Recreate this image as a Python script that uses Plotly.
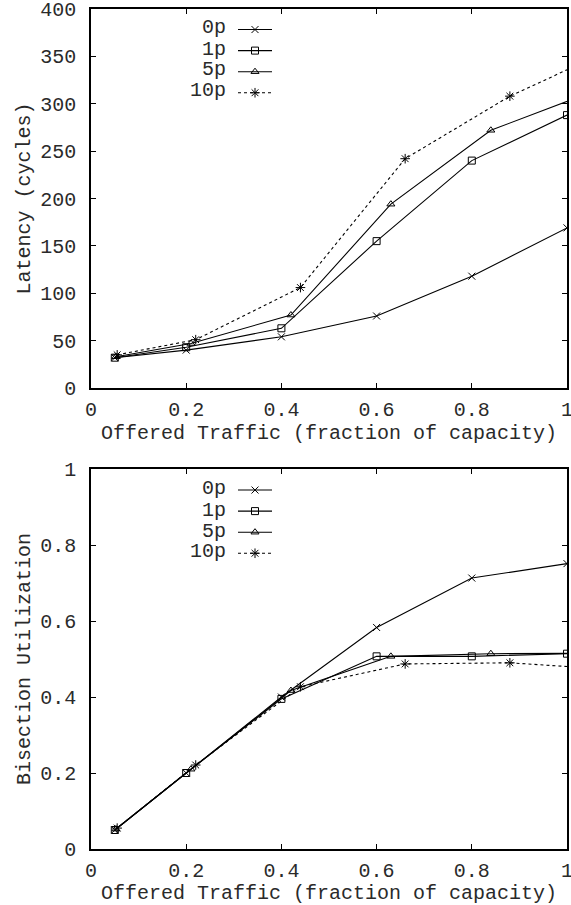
import plotly.graph_objects as go

# ---------------- data ----------------
series_names = ["0p", "1p", "5p", "10p"]

x_0p = [0.05, 0.2, 0.4, 0.6, 0.8, 1.0]
x_1p = [0.05, 0.2, 0.4, 0.6, 0.8, 1.0]
x_5p = [0.0525, 0.21, 0.42, 0.63, 0.84, 1.05]
x_10p = [0.055, 0.22, 0.44, 0.66, 0.88, 1.1]

latency_0p = [32, 40, 54, 76, 118, 169]
latency_1p = [32, 43, 63, 155, 240, 288]
latency_5p = [33, 47, 77, 194, 272, 312]
latency_10p = [35, 51, 106, 242, 308, 359]

util_0p = [0.05, 0.20, 0.40, 0.583, 0.713, 0.751]
util_1p = [0.05, 0.20, 0.395, 0.507, 0.507, 0.514]
util_5p = [0.0525, 0.21, 0.417, 0.507, 0.514, 0.515]
util_10p = [0.055, 0.221, 0.427, 0.487, 0.490, 0.472]

x_ticks = [0, 0.2, 0.4, 0.6, 0.8, 1]
x_ticktext = ["0", "0.2", "0.4", "0.6", "0.8", "1"]
lat_ticks = [0, 50, 100, 150, 200, 250, 300, 350, 400]
util_ticks = [0, 0.2, 0.4, 0.6, 0.8, 1]
util_ticktext = ["0", "0.2", "0.4", "0.6", "0.8", "1"]

x_title = "Offered Traffic (fraction of capacity)"
lat_title = "Latency (cycles)"
util_title = "Bisection Utilization"

# ---------------- style ----------------
FONT = "Liberation Mono"
TXT = "#2a2a2a"
W, H = 571, 905
ML, MR, MT, MB = 91, 4, 9, 56
PLOT_H = H - MT - MB

def py(p):
    """pixel y -> paper y"""
    return (H - MB - p) / PLOT_H

def px(p):
    return (p - ML) / (W - ML - MR)

styles = [
    dict(symbol="x-thin-open", size=7, dash="solid"),
    dict(symbol="square-open", size=7, dash="solid"),
    dict(symbol="triangle-up-open", size=7, dash="solid"),
    dict(symbol="asterisk-open", size=8, dash="dot"),
]

xs = [x_0p, x_1p, x_5p, x_10p]
lat = [latency_0p, latency_1p, latency_5p, latency_10p]
util = [util_0p, util_1p, util_5p, util_10p]

fig = go.Figure()
for i, name in enumerate(series_names):
    st = styles[i]
    fig.add_trace(go.Scatter(
        x=xs[i], y=lat[i], name=name, mode="lines+markers",
        line=dict(color="black", width=1.1, dash=st["dash"]),
        marker=dict(symbol=st["symbol"], size=st["size"], color="black",
                    line=dict(color="black", width=1)),
        xaxis="x", yaxis="y", legend="legend", cliponaxis=True,
    ))
for i, name in enumerate(series_names):
    st = styles[i]
    fig.add_trace(go.Scatter(
        x=xs[i], y=util[i], name=name, mode="lines+markers",
        line=dict(color="black", width=1.1, dash=st["dash"]),
        marker=dict(symbol=st["symbol"], size=st["size"], color="black",
                    line=dict(color="black", width=1)),
        xaxis="x2", yaxis="y2", legend="legend2", cliponaxis=True,
    ))

axis_common = dict(
    showline=True, linecolor="black", linewidth=1.5, mirror="allticks",
    ticks="inside", ticklen=5, tickwidth=1, tickcolor="black",
    showgrid=False, zeroline=False, automargin=False,
    ticklabeloverflow="allow",
    tickfont=dict(family=FONT, size=20, color=TXT),
)

top_dom = [py(388), 1.0]
bot_dom = [0.0, py(469)]

fig.update_layout(
    width=W, height=H,
    margin=dict(l=ML, r=MR, t=MT, b=MB, autoexpand=False),
    paper_bgcolor="white", plot_bgcolor="white",
    font=dict(family=FONT, size=20, color=TXT),
    xaxis=dict(axis_common, range=[0, 1], tickvals=x_ticks, ticktext=x_ticktext,
               anchor="y", ticklabelstandoff=2,
               title=dict(text=x_title, standoff=4, font=dict(family=FONT, size=20))),
    yaxis=dict(axis_common, range=[0, 400], tickvals=lat_ticks, domain=top_dom,
               anchor="x", ticklabelstandoff=9,
               title=dict(text=lat_title, standoff=4, font=dict(family=FONT, size=20))),
    xaxis2=dict(axis_common, range=[0, 1], tickvals=x_ticks, ticktext=x_ticktext,
                anchor="y2", ticklabelstandoff=2,
                title=dict(text=x_title, standoff=4, font=dict(family=FONT, size=20))),
    yaxis2=dict(axis_common, range=[0, 1], tickvals=util_ticks, ticktext=util_ticktext,
                domain=bot_dom, anchor="x2", ticklabelstandoff=9,
                title=dict(text=util_title, standoff=4, font=dict(family=FONT, size=20))),
    legend=dict(x=px(233), y=py(14), xanchor="left", yanchor="top",
                bgcolor="rgba(0,0,0,0)", itemwidth=34,
                font=dict(family=FONT, size=13.9, color="rgba(0,0,0,0)")),
    legend2=dict(x=px(233), y=py(474.5), xanchor="left", yanchor="top",
                 bgcolor="rgba(0,0,0,0)", itemwidth=34,
                 font=dict(family=FONT, size=13.9, color="rgba(0,0,0,0)")),
    showlegend=True,
)

# legend labels (right-aligned, left of the samples, gnuplot style)
row_top = [27.7, 49, 70, 90.7]
row_bot = [488, 510, 531, 552]
for i, name in enumerate(series_names):
    for rows in (row_top, row_bot):
        fig.add_annotation(
            x=px(227), y=py(rows[i]), xref="paper", yref="paper",
            text=name, showarrow=False, xanchor="right", yanchor="middle",
            height=19, borderpad=0, font=dict(family=FONT, size=20, color=TXT),
        )

fig.write_html(
    "out.html",
    config={"displayModeBar": False},
    post_script="document.body.style.margin='0';document.body.style.overflow='hidden';",
)
